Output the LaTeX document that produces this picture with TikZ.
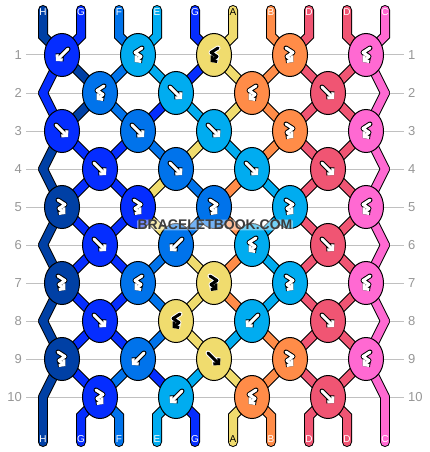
\documentclass[tikz,border=0pt]{standalone}
\usepackage{fontspec}
\setmainfont{Liberation Sans}
\usetikzlibrary{shapes.geometric,arrows.meta}

\definecolor{strH}{RGB}{0,64,165}
\definecolor{strG}{RGB}{5,45,255}
\definecolor{strF}{RGB}{0,115,235}
\definecolor{strE}{RGB}{0,172,240}
\definecolor{strA}{RGB}{240,220,110}
\definecolor{strB}{RGB}{255,140,72}
\definecolor{strD}{RGB}{240,85,115}
\definecolor{strC}{RGB}{255,105,210}
\colorlet{inkH}{white}\colorlet{inkG}{white}\colorlet{inkF}{white}\colorlet{inkE}{white}
\colorlet{inkA}{black}\colorlet{inkB}{white}\colorlet{inkD}{white}\colorlet{inkC}{white}
\colorlet{rimH}{black}\colorlet{rimG}{black}\colorlet{rimF}{black}\colorlet{rimE}{black}
\colorlet{rimA}{white}\colorlet{rimB}{black}\colorlet{rimD}{black}\colorlet{rimC}{black}
\definecolor{gridgray}{RGB}{192,192,192}
\definecolor{labgray}{RGB}{150,150,150}
\definecolor{stampgray}{RGB}{60,60,60}

% knot arrows
\def\icfwd{(-6,-6) -- (6,6)}
\def\icbwd{(6,-6) -- (-6,6)}
\def\icfwdb{(-4,-7) -- (3,-2.5) -- (-3,1.5) -- (3.5,7)}
\def\icbwdf{(4,-7) -- (-3,-2.5) -- (3,1.5) -- (-3.5,7)}

\pgfdeclarelayer{grid}
\pgfdeclarelayer{outline}
\pgfdeclarelayer{strands}
\pgfsetlayers{grid,outline,strands,main}

\tikzset{
  knot/.style={ellipse, draw=black, line width=1pt, minimum width=35pt,
    minimum height=43pt, inner sep=0pt},
  rim/.style={line width=5pt, line cap=round, line join=round,
    -{Straight Barb[length=3.5pt,width=8pt]}},
  ink/.style={line width=3pt, line cap=round, line join=round,
    -{Straight Barb[length=3.5pt,width=8pt]}},
  pics/icon/.style 2 args={code={
    \draw[rim, draw=rim#2] \csname ic#1\endcsname;
    \draw[ink, draw=ink#2] \csname ic#1\endcsname;
  }},
  strandedge/.style={line width=10pt, draw=black},
  strandfill/.style={line width=8pt, draw=#1},
  rowline/.style={draw=gridgray, line width=1pt},
  rowlab/.style={text=labgray, font=\fontsize{13}{13}\selectfont, inner sep=0pt},
  strlab/.style={font=\fontsize{10}{10}\selectfont, inner sep=0pt},
  stamp/.style={font=\bfseries\fontsize{14}{14}\selectfont, inner sep=0.5pt},
}

\begin{document}
\begin{tikzpicture}[x=1pt, y=-1pt]
  \useasboundingbox (0,0) rectangle (430,452);
  % row lines and numbers
  \foreach \r in {1,...,10} {
    \begin{pgfonlayer}{grid}
      \draw[rowline] (26,17+38*\r) -- (404,17+38*\r);
    \end{pgfonlayer}
    \node[rowlab, anchor=east] (ll-\r) at (22,17+38*\r) {\r};
    \node[rowlab, anchor=west] (rl-\r) at (408,17+38*\r) {\r};
  }
  % knots
  \foreach \r/\ks in {
      1/{G/bwd,E/bwdf,A/bwdf,B/fwdb,C/bwdf},
      2/{F/bwdf,E/fwd,B/bwdf,D/fwd},
      3/{G/fwd,F/fwd,E/fwd,B/fwdb,C/bwdf},
      4/{G/fwd,F/fwd,E/fwd,D/fwd},
      5/{H/fwdb,G/fwdb,F/fwdb,E/fwdb,C/bwdf},
      6/{G/fwd,F/bwd,E/bwdf,D/fwd},
      7/{H/fwdb,F/bwdf,A/fwdb,E/fwdb,C/bwdf},
      8/{G/fwd,A/bwdf,E/bwd,D/fwd},
      9/{H/fwdb,F/bwd,A/fwd,B/fwdb,C/bwdf},
      10/{G/fwdb,E/bwd,B/bwdf,D/fwd}} {
    \pgfmathtruncatemacro\odd{mod(\r,2)}
    \foreach \c/\t [count=\i] in \ks {
      \pgfmathsetmacro\kx{\odd==1 ? 76*\i-14 : 76*\i+24}
      \node[knot, fill=str\c] (k-\r-\i) at (\kx,17+38*\r) {};
      \pic at (k-\r-\i.center) {icon={\t}{\c}};
    }
    \ifnum\odd=0
      \coordinate (k-\r-0) at (43,17+38*\r);
      \coordinate (k-\r-5) at (385,17+38*\r);
    \fi
  }
  % strands between rows
  \foreach \r/\cols in {
      1/{G,H,F,E,G,A,B,D,D,C},
      2/{G,H,F,G,E,A,B,D,D,C},
      3/{H,G,G,F,A,E,B,D,D,C},
      4/{H,G,G,A,F,B,E,D,D,C},
      5/{H,G,G,A,F,B,E,D,D,C},
      6/{H,G,G,F,A,B,E,D,D,C},
      7/{H,G,G,F,A,B,E,D,D,C},
      8/{H,G,G,F,A,E,B,D,D,C},
      9/{H,G,F,G,E,A,B,D,D,C}} {
    \pgfmathtruncatemacro\nx{\r+1}
    \foreach \c [count=\p] in \cols {
      \pgfmathtruncatemacro\ka{mod(\r,2)==1 ? (\p+1)/2 : \p/2}
      \pgfmathtruncatemacro\kb{mod(\r,2)==1 ? \p/2 : (\p+1)/2}
      \begin{pgfonlayer}{outline}
        \draw[strandedge, line cap=round] (k-\r-\ka.center) -- (k-\nx-\kb.center);
      \end{pgfonlayer}
      \begin{pgfonlayer}{strands}
        \draw[strandfill=str\c, line cap=round] (k-\r-\ka.center) -- (k-\nx-\kb.center);
      \end{pgfonlayer}
    }
  }
  % loose ends
  \foreach \c [count=\p] in {H,G,F,E,G,A,B,D,D,C} {
    \pgfmathtruncatemacro\ka{(\p+1)/2}
    \pgfmathtruncatemacro\kb{\p/2}
    \coordinate (top-\p) at (5+38*\p,10);
    \coordinate (bot-\p) at (5+38*\p,442);
    \begin{pgfonlayer}{outline}
      \draw[strandedge, line cap=round] (top-\p) -- ++(0,26) -- (k-1-\ka.center);
      \draw[strandedge, line cap=round] (bot-\p) -- ++(0,-26) -- (k-10-\kb.center);
    \end{pgfonlayer}
    \begin{pgfonlayer}{strands}
      \draw[strandfill=str\c, line cap=round] (top-\p) -- ++(0,26) -- (k-1-\ka.center);
      \draw[strandfill=str\c, line cap=round] (bot-\p) -- ++(0,-26) -- (k-10-\kb.center);
    \end{pgfonlayer}
    \node[strlab, text=ink\c] (tl-\p) at (5+38*\p,12) {\c};
    \node[strlab, text=ink\c] (bl-\p) at (5+38*\p,439) {\c};
  }
  % watermark
  \node[stamp, text=stampgray, fill=white, fill opacity=0.45, text opacity=1,
    rounded corners=2pt] (wm) at (215,225) {BRACELETBOOK.COM};
\end{tikzpicture}
\end{document}
